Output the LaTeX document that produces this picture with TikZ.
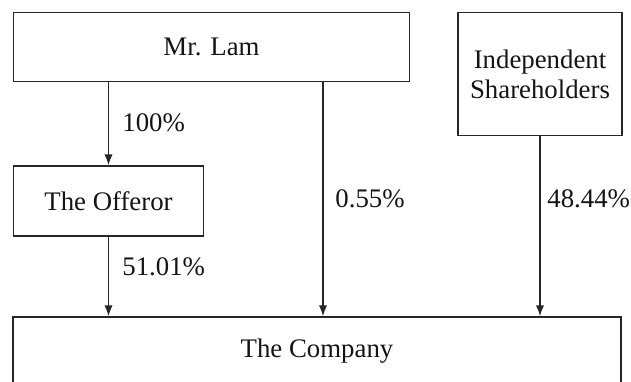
\documentclass[tikz,border=0pt]{standalone}
\usepackage{fontspec}
\setmainfont{Liberation Serif}
\usetikzlibrary{arrows.meta}
\begin{document}
\begin{tikzpicture}[x=0.5pt,y=-0.5pt,
  box/.style={draw=black!85,line width=0.75pt,rectangle,inner sep=0pt,align=center,
    font=\fontsize{13.4}{15}\selectfont,text=black!92},
  arr/.style={draw=black!85,line width=0.75pt,-{Latex[length=5.5pt,width=4.2pt]}},
  pct/.style={anchor=base west,inner sep=0pt,font=\fontsize{13.4}{15}\selectfont,text=black!92}]
\useasboundingbox (0,0) rectangle (631,381);
\clip (0,0) rectangle (631,381);
\node[box,minimum width=396*0.5pt,minimum height=69*0.5pt] (lam) at (211.5,47) {Mr. Lam};
\node[box,minimum width=164*0.5pt,minimum height=123*0.5pt] (ind) at (540,74) {Independent\\Shareholders};
\node[box,minimum width=190*0.5pt,minimum height=70*0.5pt] (off) at (108.5,201) {The Offeror};
\node[box,minimum width=608*0.5pt,minimum height=68*0.5pt] (comp) at (317,351) {The Company};
\coordinate (mid) at (323,0);
\draw[arr] (off.north |- lam.south) -- (off.north);
\draw[arr] (lam.south -| mid) -- (comp.north -| mid);
\draw[arr] (ind.south) -- (comp.north -| ind.south);
\draw[arr] (off.south) -- (comp.north -| off.south);
\node[pct] (p100) at (122,131) {100\%};
\node[pct] (p055) at (335,207) {0.55\%};
\node[pct] (p4844) at (547,207) {48.44\%};
\node[pct] (p5101) at (122,275) {51.01\%};
\end{tikzpicture}
\end{document}
